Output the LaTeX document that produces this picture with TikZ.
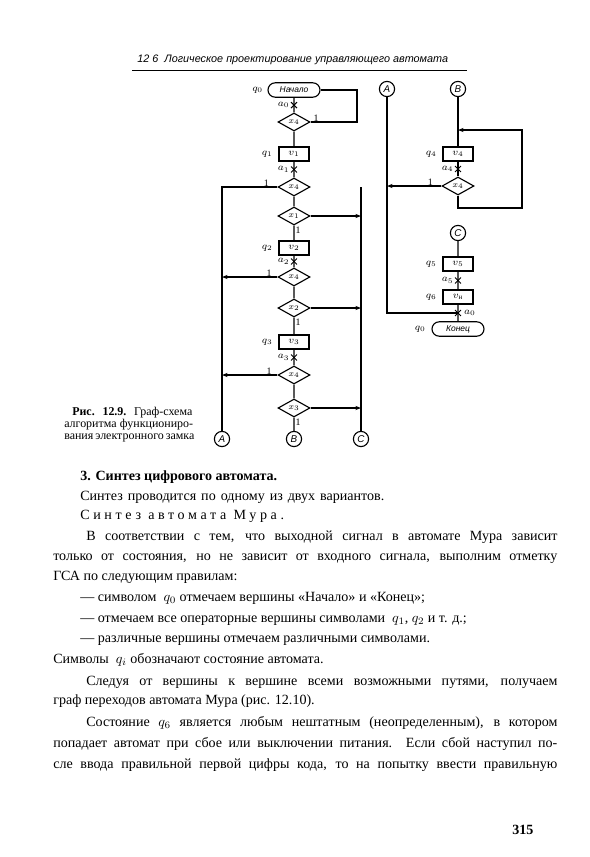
\documentclass[tikz,border=0pt]{standalone}
\usepackage{amsmath}
\usepackage{fontspec}
\setmainfont{Liberation Serif}
\newfontfamily\chartfont{Liberation Sans}
\usetikzlibrary{shapes.geometric,shapes.misc}
\usetikzlibrary{arrows.meta}
\usetikzlibrary{positioning,calc}
\tikzset{
    term/.style={
        rounded rectangle,
        draw=black,
        line width=0.8pt,
        minimum width=1.3cm,
        minimum height=0.36cm,
        inner sep=0pt,
        font=\chartfont\itshape\fontsize{6}{7}\selectfont
    },
    opbox/.style={
        rectangle,
        draw=black,
        line width=0.8pt,
        minimum width=0.75cm,
        minimum height=0.35cm,
        inner sep=0pt,
        font=\fontsize{7}{8}\selectfont
    },
    cond/.style={
        diamond,
        draw=black,
        line width=0.8pt,
        minimum width=0.8cm,
        minimum height=0.45cm,
        inner sep=0pt,
        font=\fontsize{6.5}{7}\selectfont
    },
    conn/.style={
        circle,
        draw=black,
        line width=0.8pt,
        minimum size=0.38cm,
        inner sep=0pt,
        font=\chartfont\itshape\fontsize{7}{8}\selectfont
    },
    xmark/.style={cross out, draw=black, line width=0.7pt, minimum size=3.5pt, inner sep=0pt},
    lab/.style={inner sep=0pt, font=\fontsize{7}{8}\selectfont},
    flow/.style={line width=0.8pt},
    arr/.style={line width=0.8pt, -{Stealth[length=4pt,width=3pt]}},
    txt/.style={anchor=base west, inner sep=0pt, font=\fontsize{10}{12}\selectfont}
}

\begin{document}
\begin{tikzpicture}[x=0.025cm, y=-0.025cm]
\fill[white] (0,0) rectangle (590,857);
\useasboundingbox (0,0) rectangle (590,857);

% running head
\node[txt, font=\chartfont\itshape\fontsize{7.7}{9}\selectfont] (head) at (137,62) {12 6\ \ Логическое проектирование управляющего автомата};
\draw[line width=0.6pt] (132,70) -- (467,70);

% left chart
\node[term] (start) at (294,90) {Начало};
\node[cond] (c1) at (294,122) {$x_4$};
\node[opbox] (op1) at (294,154) {$v_1$};
\node[cond] (c2) at (294,187) {$x_4$};
\node[cond] (c3) at (294,216) {$x_1$};
\node[opbox] (op2) at (294,248) {$v_2$};
\node[cond] (c4) at (294,277) {$x_4$};
\node[cond] (c5) at (294,308) {$x_2$};
\node[opbox] (op3) at (294,342) {$v_3$};
\node[cond] (c6) at (294,375) {$x_4$};
\node[cond] (c7) at (294,408) {$x_3$};
\node[conn] (B1) at (294,439) {B};
\node[conn] (A1) at (222,439) {A};
\node[conn] (C1) at (361,439) {C};
\coordinate (lp) at (357,90);
\coordinate (Atop) at (222,187);
\coordinate (Ctop) at (361,187);

\draw[flow] (start) -- (c1) -- (op1) -- (c2) -- (c3) -- (op2) -- (c4) -- (c5) -- (op3) -- (c6) -- (c7) -- (B1);
\draw[flow] (start.east) -- (lp) |- (c1.east);
\draw[flow] (c2.west) -- (Atop) -- (A1);
\draw[flow] (Ctop) -- (C1);
\draw[arr] (c4.west) -- (c4.west -| A1);
\draw[arr] (c6.west) -- (c6.west -| A1);
\draw[arr] (c3.east) -- (c3.east -| C1);
\draw[arr] (c5.east) -- (c5.east -| C1);
\draw[arr] (c7.east) -- (c7.east -| C1);

\node[xmark] (m0) at ($(start.south)!0.5!(c1.north)$) {};
\node[xmark] (m1) at ($(op1.south)!0.5!(c2.north)$) {};
\node[xmark] (m2) at ($(op2.south)!0.5!(c4.north)$) {};
\node[xmark] (m3) at ($(op3.south)!0.5!(c6.north)$) {};

\node[lab, left=3pt of start] {$q_0$};
\node[lab, left=1pt of m0] {$a_0$};
\node[lab, left=4pt of op1] {$q_1$};
\node[lab, left=1pt of m1] {$a_1$};
\node[lab, left=4pt of op2] {$q_2$};
\node[lab, left=1pt of m2] {$a_2$};
\node[lab, left=4pt of op3] {$q_3$};
\node[lab, left=1pt of m3] {$a_3$};
\node[lab, above right=0pt and 2pt of c1.east] {1};
\node[lab, above left=0pt and 6pt of c2.west] {1};
\node[lab, below right=1pt and 1pt of c3.south] {1};
\node[lab, above left=0pt and 4pt of c4.west] {1};
\node[lab, below right=1pt and 1pt of c5.south] {1};
\node[lab, above left=0pt and 4pt of c6.west] {1};
\node[lab, below right=1pt and 1pt of c7.south] {1};

% right chart
\node[conn] (A2) at (387,89) {A};
\node[conn] (B2) at (458,89) {B};
\node[opbox] (op4) at (458,154) {$v_4$};
\node[cond] (c8) at (458,186) {$x_4$};
\node[conn] (C2) at (458,233) {C};
\node[opbox] (op5) at (458,264) {$v_5$};
\node[opbox] (op6) at (458,297) {$v_{\text{н}}$};
\coordinate (j0) at (458,313);
\node[term] (stop) at (458,329) {Конец};
\coordinate (lt) at (458,130);
\coordinate (lpr) at (522,208);

\draw[flow] (B2) -- (op4) -- (c8);
\draw[arr] (c8.south) |- (lpr) |- (lt);
\draw[arr] (c8.west) -- (c8.west -| A2);
\draw[flow] (A2) |- (j0);
\draw[flow] (C2) -- (op5) -- (op6) -- (stop);

\node[xmark] (m4) at ($(op4.south)!0.5!(c8.north)$) {};
\node[xmark] (m5) at ($(op5.south)!0.5!(op6.north)$) {};
\node[xmark] (m6) at (j0) {};

\node[lab, left=4pt of op4] {$q_4$};
\node[lab, left=1pt of m4] {$a_4$};
\node[lab, left=4pt of op5] {$q_5$};
\node[lab, left=1pt of m5] {$a_5$};
\node[lab, left=4pt of op6] {$q_6$};
\node[lab, right=2pt of m6] {$a_0$};
\node[lab, left=4pt of stop] {$q_0$};
\node[lab, above left=0pt and 6pt of c8.west] {1};

% caption
\node[txt, font=\fontsize{8.5}{10}\selectfont] (cap1) at (72,415) {\makebox[3cm][s]{\textbf{Рис. 12.9.} Граф-схема}};
\node[txt, font=\fontsize{8.5}{10}\selectfont] (cap2) at (64,427) {\makebox[3.22cm][s]{алгоритма функциониро-}};
\node[txt, font=\fontsize{8.5}{10}\selectfont] (cap3) at (64,439) {\makebox[3.22cm][s]{вания электронного замка}};

% body text
\node[txt, font=\bfseries\fontsize{10}{12}\selectfont] (t0) at (80,480) {3. Синтез цифрового автомата.};
\node[txt] (t1) at (80,500) {\makebox[7.6cm][s]{Синтез проводится по одному из двух вариантов.}};
\node[txt] (t2) at (80,519) {\addfontfeature{LetterSpace=26}Синтез автомата Мура.};
\node[txt] (t3) at (86,540) {\makebox[11.78cm][s]{В соответствии с тем, что выходной сигнал в автомате Мура зависит}};
\node[txt] (t4) at (53,560) {\makebox[12.6cm][s]{только от состояния, но не зависит от входного сигнала, выполним отметку}};
\node[txt] (t5) at (53,580) {ГСА по следующим правилам:};
\node[txt] (t6) at (80,601) {— символом\ \ $q_0$\ отмечаем вершины «Начало» и «Конец»;};
\node[txt] (t7) at (80,622) {— отмечаем все операторные вершины символами\ \ $q_1$,\ $q_2$\ и т. д.;};
\node[txt] (t8) at (80,642) {— различные вершины отмечаем различными символами.};
\node[txt] (t9) at (53,663) {Символы\ \ $q_i$\ обозначают состояние автомата.};
\node[txt] (t10) at (86,685) {\makebox[11.78cm][s]{Следуя от вершины к вершине всеми возможными путями, получаем}};
\node[txt] (t11) at (53,704) {граф переходов автомата Мура (рис. 12.10).};
\node[txt] (t12) at (86,726) {\makebox[11.78cm][s]{Состояние $q_6$ является любым нештатным (неопределенным), в котором}};
\node[txt] (t13) at (53,747) {\makebox[12.6cm][s]{попадает автомат при сбое или выключении питания. Если сбой наступил по-}};
\node[txt] (t14) at (53,768) {\makebox[12.6cm][s]{сле ввода правильной первой цифры кода, то на попытку ввести правильную}};
\node[txt, font=\bfseries\fontsize{10}{12}\selectfont] (pg) at (512,834) {315};
\end{tikzpicture}
\end{document}
